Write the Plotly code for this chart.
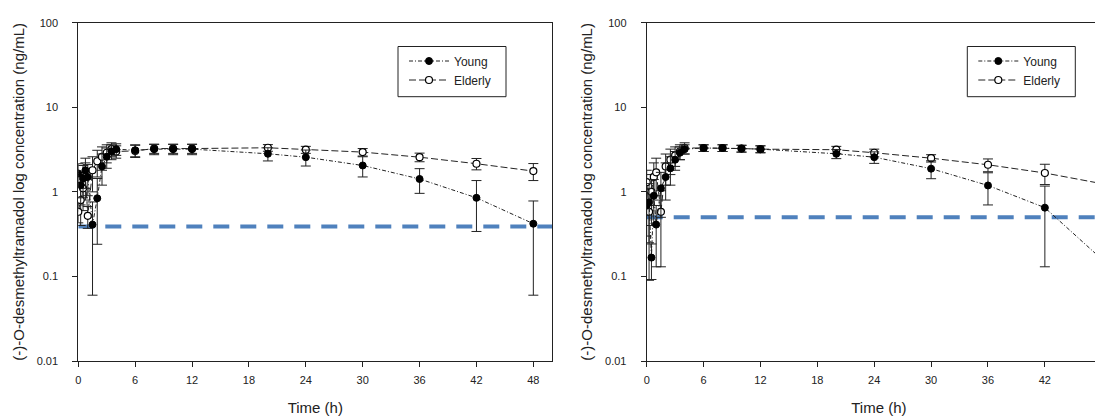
import plotly.graph_objects as go

# ---------------- data ----------------
times = [0, 0.25, 0.5, 0.75, 1, 1.5, 2, 2.5, 3, 3.5, 4,
         6, 8, 10, 12, 20, 24, 30, 36, 42, 48]
x_ticks = [0, 6, 12, 18, 24, 30, 36, 42, 48]
y_ticks = [0.01, 0.1, 1, 10, 100]
y_ticktext = ["0.01", "0.1", "1", "10", "100"]

# Left panel
left_young = [1.65, 1.2, 1.45, 1.8, 1.5, 0.41, 0.84, 2.0, 2.6, 3.0, 3.2,
              3.1, 3.2, 3.2, 3.2, 2.82, 2.57, 2.05, 1.42, 0.85, 0.42]
left_young_sd = [0.5, 0.5, 0.6, 0.7, 0.6, 0.35, 0.6, 0.8, 0.7, 0.6, 0.5,
                 0.5, 0.45, 0.45, 0.45, 0.5, 0.55, 0.55, 0.46, 0.51, 0.36]
left_elderly = [0.58, 0.8, 1.1, 1.5, 0.52, 1.8, 2.3, 2.6, 2.9, 3.2, 3.0,
                3.05, 3.25, 3.25, 3.25, 3.32, 3.15, 2.95, 2.57, 2.15, 1.76]
left_elderly_sd = [0.15, 0.4, 0.5, 0.7, 0.15, 0.8, 0.8, 0.8, 0.7, 0.6, 0.5,
                   0.5, 0.4, 0.4, 0.4, 0.3, 0.3, 0.3, 0.3, 0.33, 0.4]
left_lloq = 0.39

# Right panel
right_young = [0.7, 0.75, 0.167, 0.9, 0.41, 1.1, 1.5, 1.9, 2.4, 2.9, 3.2,
               3.3, 3.3, 3.25, 3.2, 2.82, 2.57, 1.88, 1.19, 0.65, 0.16]
right_young_sd = [0.4, 0.5, 0.075, 0.5, 0.28, 0.6, 0.7, 0.7, 0.6, 0.5, 0.4,
                  0.3, 0.3, 0.3, 0.3, 0.35, 0.4, 0.45, 0.49, 0.52, 0.46]
right_elderly = [1.3, 0.58, 1.0, 1.5, 1.7, 0.58, 2.0, 2.4, 2.7, 3.0, 3.3,
                 3.3, 3.3, 3.25, 3.2, 3.15, 2.9, 2.5, 2.09, 1.67, 1.25]
right_elderly_sd = [0.5, 0.49, 0.6, 0.7, 0.8, 0.45, 0.8, 0.8, 0.7, 0.6, 0.5,
                    0.3, 0.3, 0.3, 0.3, 0.3, 0.3, 0.25, 0.36, 0.45, 0.5]
right_lloq = 0.5

x_span = [0, 50]

# ---------------- figure ----------------
W, H = 1103, 416
OFF = 8  # page body margin offset
FONT = "Arial, 'Liberation Sans', sans-serif"
INK = "#222222"
BLUE = "#4F81BD"
PX_PER_H = 9.48

fig = go.Figure()


def add_panel(xa, ya, young, young_sd, eld, eld_sd, lloq, legend):
    fig.add_trace(go.Scatter(
        x=x_span, y=[lloq, lloq], mode="lines", xaxis=xa, yaxis=ya,
        line=dict(color=BLUE, width=4, dash="16px,11px"),
        showlegend=False, hoverinfo="skip"))
    fig.add_trace(go.Scatter(
        x=times, y=eld, mode="lines+markers", name="Elderly",
        xaxis=xa, yaxis=ya, legend=legend,
        line=dict(color=INK, width=1, dash="7px,3px"),
        marker=dict(symbol="circle", size=7, color="white",
                    line=dict(color="black", width=1.2)),
        error_y=dict(type="data", array=eld_sd, color=INK,
                     thickness=1, width=5)))
    fig.add_trace(go.Scatter(
        x=times, y=young, mode="lines+markers", name="Young",
        xaxis=xa, yaxis=ya, legend=legend,
        line=dict(color=INK, width=1, dash="4px,2px,1px,2px"),
        marker=dict(symbol="circle", size=7, color="black",
                    line=dict(color="black", width=1)),
        error_y=dict(type="data", array=young_sd, color=INK,
                     thickness=1, width=5)))


add_panel("x", "y", left_young, left_young_sd, left_elderly,
          left_elderly_sd, left_lloq, "legend")
add_panel("x2", "y2", right_young, right_young_sd, right_elderly,
          right_elderly_sd, right_lloq, "legend2")

ydom = [1 - (361 - OFF) / H, 1 - (22.7 - OFF) / H]
ytitle = "(-)-O-desmethyltramadol log concentration (ng/mL)"

xcommon = dict(tickvals=x_ticks, ticks="outside", ticklen=5,
               tickcolor=INK, showline=True, linecolor=INK, linewidth=1,
               showgrid=False, zeroline=False, automargin=False,
               ticklabelstandoff=4,
               tickfont=dict(family=FONT, size=11, color=INK),
               title=dict(text="Time (h)", font=dict(family=FONT, size=15,
                                                      color=INK),
                          standoff=17))
ycommon = dict(type="log", range=[-2, 2], domain=ydom,
               tickvals=y_ticks, ticktext=y_ticktext, ticks="outside",
               ticklen=5, tickcolor=INK, showline=True, linecolor=INK,
               linewidth=1, showgrid=False, zeroline=False, automargin=False,
               ticklabelstandoff=12,
               tickfont=dict(family=FONT, size=11, color=INK),
               title=dict(text=ytitle, font=dict(family=FONT, size=15,
                                                 color=INK),
                          standoff=8))

legcommon = dict(xanchor="left", yanchor="top", bgcolor="rgba(0,0,0,0)",
                 borderwidth=0, itemwidth=40,
                 font=dict(family=FONT, size=12, color=INK),
                 traceorder="reversed", tracegroupgap=0)

left_x0 = 78.3 - OFF
right_x0 = 646.7 - OFF
right_max = (W - right_x0) / PX_PER_H


def px(xs):
    return (xs - OFF) / W


def py(ys):
    return 1 - (ys - OFF) / H


# legend frames (screen px in the reference)
frames = [(398, 46.5, 506, 96.7), (967.3, 46.5, 1075.3, 96.7)]
shapes = [dict(type="rect", xref="paper", yref="paper",
               x0=px(a), y0=py(b), x1=px(c), y1=py(d),
               line=dict(color=INK, width=1), fillcolor="white",
               layer="below") for a, b, c, d in frames]

fig.update_layout(
    template="none",
    width=W, height=H,
    margin=dict(l=0, r=0, t=0, b=0, pad=0),
    paper_bgcolor="white", plot_bgcolor="white",
    font=dict(family=FONT, color=INK),
    xaxis=dict(domain=[left_x0 / W, (left_x0 + 50 * PX_PER_H) / W],
               range=[0, 50], anchor="y", mirror=True, **xcommon),
    yaxis=dict(anchor="x", mirror=True, **ycommon),
    xaxis2=dict(domain=[right_x0 / W, 1], range=[0, right_max],
                anchor="y2", mirror=True, **xcommon),
    yaxis2=dict(anchor="x2", mirror=False, **ycommon),
    legend=dict(x=px(404), y=py(46.5), **legcommon),
    legend2=dict(x=px(973.3), y=py(46.5), **legcommon),
    shapes=shapes,
)

fig.write_html("out.html")
